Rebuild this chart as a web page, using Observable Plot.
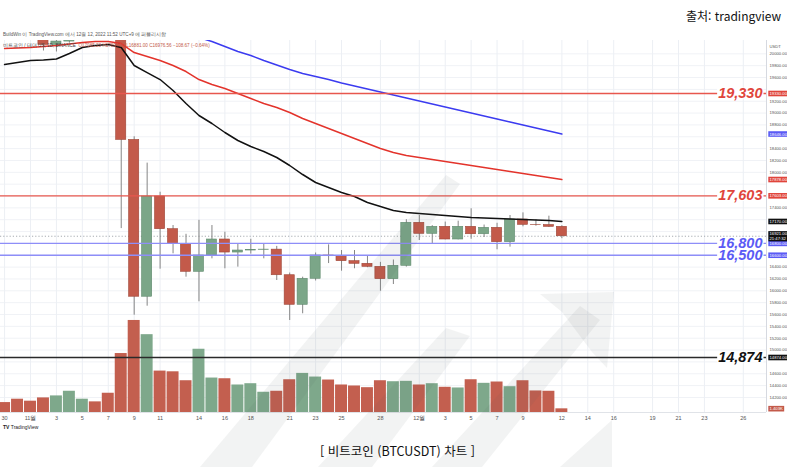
<!DOCTYPE html>
<html lang="ko">
<head>
<meta charset="utf-8">
<script src="https://cdn.jsdelivr.net/npm/d3@7"></script>
<script src="https://cdn.jsdelivr.net/npm/@observablehq/plot@0.6"></script>
<style>
html,body{margin:0;padding:0;background:#fff;}
#wrap{position:relative;width:787px;height:467px;overflow:hidden;background:#fff;font-family:"Liberation Sans",Arial,sans-serif;}
.layer{position:absolute;left:0;top:0;width:787px;height:467px;}
.layer svg{display:block;}
.txt{position:absolute;white-space:nowrap;line-height:1;}
</style>
</head>
<body>
<div id="wrap">
  <div class="layer" id="gridLayer"></div>
  <div class="layer" id="volLayer"></div>
  <div class="layer" id="priceLayer"></div>
  <svg class="layer" id="wm" width="787" height="467" style="pointer-events:none">
    <g fill="#4f5f5f" fill-opacity="0.075">
      <path d="M200,467 L252,467 L460,184 L446,175 Z"/>
      <path d="M318,467 L372,467 L470,336 L446,328 Z"/>
      <path d="M432,467 L482,467 L600,320 L580,306 Z"/>
      <path d="M540,294 L614,292 L607,368 L592,352 L562,312 Z"/>
      <path d="M560,467 L612,467 L612,420 Z"/>
    </g>
  </svg>
  <div class="txt" style="left:3px;top:33px;font-size:4.6px;color:#555;">BuildWin 이 TradingView.com 에서 12월 12, 2022 11:52 UTC+9 에 퍼블리시함</div>
  <div class="txt" style="left:3px;top:43.5px;font-size:4.6px;color:#444;">비트코인 / 테더 US, 1D, BINANCE&nbsp; <span style="color:#c35a4a">O17085.23 H17094.00 L16881.00 C16976.56 −108.67 (−0.64%)</span></div>
  <div class="txt" style="left:3px;top:425px;font-size:5px;color:#222;font-weight:bold;">TV <span style="font-weight:normal">TradingView</span></div>
  <div class="txt" style="left:686px;top:10px;font-size:12px;color:#111;font-family:'Noto Sans CJK KR','Noto Sans',sans-serif;">출처: tradingview</div>
  <div class="txt" style="left:0;width:795px;text-align:center;top:445px;font-size:12.5px;color:#111;font-family:'Noto Sans CJK KR','Noto Sans',sans-serif;">[ 비트코인 (BTCUSDT) 차트 ]</div>
</div>
<script>
// ---------------- data ----------------
const dates = ["2022-10-30","2022-10-31",
  "2022-11-01","2022-11-02","2022-11-03","2022-11-04","2022-11-05","2022-11-06","2022-11-07","2022-11-08","2022-11-09","2022-11-10",
  "2022-11-11","2022-11-12","2022-11-13","2022-11-14","2022-11-15","2022-11-16","2022-11-17","2022-11-18","2022-11-19","2022-11-20",
  "2022-11-21","2022-11-22","2022-11-23","2022-11-24","2022-11-25","2022-11-26","2022-11-27","2022-11-28","2022-11-29","2022-11-30",
  "2022-12-01","2022-12-02","2022-12-03","2022-12-04","2022-12-05","2022-12-06","2022-12-07","2022-12-08","2022-12-09","2022-12-10",
  "2022-12-11","2022-12-12"];
const open  = [20817,20627,20491,20483,20151,20207,21148,21299,20905,20591,18547,15900,17592,17040,16793,16321,16596,16866,16646,16680,16690,16695,16263,15764,16203,16596,16584,16500,16456,16405,16196,16422,17148,16962,17080,16866,17080,16955,17063,16821,17203,17114,17110,17080];
const high  = [20931,20845,20700,20800,20393,21302,21480,21365,21069,20700,18600,18155,17664,17102,16954,17190,17102,16989,16782,16870,16782,16750,16300,16230,16638,16776,16680,16680,16594,16480,16520,17200,17271,17100,17160,17175,17385,17110,17140,17271,17316,17200,17260,17100];
const low   = [20515,20237,20345,20048,20031,20180,21080,20880,20386,17050,15588,15740,16365,16625,16230,15815,16540,16372,16400,16620,16540,16174,15499,15612,16166,16460,16331,16372,16390,15993,16106,16400,16849,16790,16860,16860,16870,16900,16692,16737,17080,17090,17070,16880];
const close = [20627,20491,20483,20151,20207,21148,21299,20905,20591,18547,15900,17592,17040,16793,16321,16596,16866,16646,16680,16690,16695,16263,15764,16203,16596,16584,16500,16456,16405,16196,16422,17148,16962,17080,16866,17080,16955,17063,16821,17203,17114,17110,17080,16921];
const volumeK = [3.80,5.09,4.33,5.59,6.35,8.13,5.09,4.07,7.37,22.57,35.23,29.79,15.85,15.58,12.16,24.21,13.19,12.92,10.53,11.02,7.75,8.13,12.54,14.97,13.57,12.43,10.53,10.15,9.50,12.16,11.78,11.93,10.53,11.02,9.65,9.39,12.54,11.17,11.67,9.88,12.16,8.25,8.13,1.403];
const maBlack = [19819,19853,19887,19895,19912,20005,20106,20140,20157,20106,19803,19684,19566,19381,19161,18959,18824,18672,18537,18435,18351,18250,18115,17963,17828,17743,17659,17592,17490,17423,17355,17322,17305,17288,17271,17254,17237,17229,17220,17212,17203,17195,17187,17170];
const maRed   = [20090,20098,20106,20123,20140,20165,20191,20208,20208,20174,20022,19954,19887,19803,19701,19566,19482,19414,19330,19246,19161,19094,19010,18908,18824,18740,18655,18571,18486,18402,18334,18284,18250,18216,18182,18149,18115,18081,18047,18014,17980,17946,17912,17878];
const maBlue  = [null,null,null,null,null,null,null,null,null,null,null,null,null,null,
  20343,20275,20208,20123,20039,19971,19887,19811,19735,19668,19617,19566,19507,19457,19406,19355,19305,19254,19203,19153,19102,19052,19001,18951,18900,18849,18799,18748,18697,18646];

const levelPrices = [19330, 17603, 16800, 16600, 14874];
const levelLabels = ["19,330", "17,603", "16,800", "16,500", "14,874"];
const levelKinds  = ["red", "red", "blue", "blue", "black"];

const xTickDates  = ["2022-10-30","2022-11-01","2022-11-03","2022-11-05","2022-11-07","2022-11-09","2022-11-11","2022-11-14","2022-11-16","2022-11-18","2022-11-21","2022-11-23","2022-11-25","2022-11-28","2022-12-01","2022-12-03","2022-12-05","2022-12-07","2022-12-09","2022-12-12","2022-12-14","2022-12-16","2022-12-19","2022-12-21","2022-12-23","2022-12-26"];
const xTickLabels = ["30","11월","3","5","7","9","11","14","16","18","21","23","25","28","12월","3","5","7","9","12","14","16","19","21","23","26"];
const priceTicks  = [14200,14400,14600,14800,15000,15200,15400,15600,15800,16000,16200,16400,16600,16800,17000,17200,17400,17600,17800,18000,18200,18400,18600,18800,19000,19200,19400,19600,19800,20000];

// ---------------- build ----------------
const DAY = 864e5;
const toDate = s => new Date(s + "T00:00:00Z");
const rows = dates.map((d, i) => ({
  date: toDate(d), open: open[i], high: high[i], low: low[i], close: close[i],
  vol: volumeK[i], maBlack: maBlack[i], maRed: maRed[i], maBlue: maBlue[i]
}));
const xTicks = xTickDates.map(toDate);
const nov1 = +toDate("2022-11-01");
const xDomain = [new Date(nov1 - 2.315 * DAY), new Date(nov1 + 56.79 * DAY)];
const yDomain = [13946, 20225];

const C = {
  up: "#7ba688", down: "#c35a4a", upEdge: "#5f8a6d", downEdge: "#9e4638",
  red: "#e0453b", blue: "#5b5bf5", lineRed: "#e8574e", lineBlue: "#8e8ef8", lineBlack: "#2a2a2a",
  maBlack: "#111111", maRed: "#e3332b", maBlue: "#3b3bf0"
};
const isUp = d => d.close >= d.open;
const tag = name => () => name;   // per-element aria-label used to find texts afterwards

const base = {
  width: 787, height: 467,
  marginLeft: 0, marginRight: 21, marginTop: 40, marginBottom: 55,
  style: {background: "transparent", fontFamily: "Liberation Sans, Arial, sans-serif", overflow: "visible"},
  x: {type: "utc", domain: xDomain, axis: null},
  color: {type: "identity"}
};

const levels = levelPrices.map((p, i) => ({price: p, label: levelLabels[i], kind: levelKinds[i]}));
const last = rows[rows.length - 1];
const badges = [
  {price: levelPrices[0], text: levelPrices[0].toFixed(2), color: C.red},
  {price: last.maBlue, text: last.maBlue.toFixed(2), color: C.blue},
  {price: last.maRed, text: last.maRed.toFixed(2), color: C.red},
  {price: levelPrices[1], text: levelPrices[1].toFixed(2), color: C.red},
  {price: last.maBlack, text: last.maBlack.toFixed(2), color: "#111"},
  {price: last.close, text: last.close.toFixed(2) + "\n21:47:32", color: "#111"},
  {price: levelPrices[2], text: levelPrices[2].toFixed(2), color: C.blue},
  {price: levelPrices[3], text: levelPrices[3].toFixed(2), color: C.blue},
  {price: levelPrices[4], text: levelPrices[4].toFixed(2), color: "#111"}
];
// axis tick labels that would sit under a badge are hidden, as the price axis does
const shownTicks = priceTicks.filter(t => badges.every(b => Math.abs(b.price - t) > 110));

// Layer A: grid + axes
const gridPlot = Plot.plot({
  ...base,
  y: {domain: yDomain, axis: null},
  marks: [
    Plot.ruleY(priceTicks, {y: d => d, stroke: "#f0f2f6", strokeWidth: 1}),
    Plot.ruleX(xTicks, {x: d => d, stroke: "#eceff4", strokeWidth: 1}),
    Plot.ruleX([xDomain[1]], {stroke: "#d6d9e0", strokeWidth: 1}),
    Plot.ruleY([yDomain[0]], {stroke: "#e0e3e8", strokeWidth: 1}),
    Plot.text(xTicks, {x: d => d, text: xTickLabels, frameAnchor: "bottom", dy: 7, fontSize: 5.5, fill: "#555"}),
    Plot.text(shownTicks, {y: d => d, text: d => d.toFixed(2), frameAnchor: "right", dx: 3, textAnchor: "start", fontSize: 4.2, fill: "#555"}),
    Plot.text(["USDT"], {text: d => d, frameAnchor: "top-right", dx: 3, dy: 5, textAnchor: "start", fontSize: 4.2, fill: "#555"})
  ]
});
document.getElementById("gridLayer").append(gridPlot);

// Layer B: volume
const volPlot = Plot.plot({
  ...base,
  y: {domain: [0, 40], range: [412, 307.5], axis: null},
  marks: [
    Plot.rect(rows, {
      x1: d => new Date(+d.date - 0.5 * DAY), x2: d => new Date(+d.date + 0.5 * DAY),
      y1: d => 0, y2: "vol",
      fill: d => isUp(d) ? "#7ea88b" : "#c35f4f",
      insetLeft: 0.5, insetRight: 0.5, clip: true
    }),
    Plot.text([last], {y: "vol", text: d => d.vol.toFixed(3) + "K", frameAnchor: "right", dx: 3, textAnchor: "start",
      fontSize: 4.2, fill: d => "#c35a4a", ariaLabel: tag("badge")})
  ]
});
document.getElementById("volLayer").append(volPlot);

// Layer C: price
const lvlStroke = k => k === "red" ? C.lineRed : k === "blue" ? C.lineBlue : C.lineBlack;
const lvlText = k => k === "red" ? C.red : k === "blue" ? C.blue : "#111";

const pricePlot = Plot.plot({
  ...base,
  y: {domain: yDomain, axis: null},
  marks: [
    Plot.ruleY([last.close], {stroke: "#8f959c", strokeDasharray: "1.2,2", strokeWidth: 0.8}),
    Plot.ruleX(rows, {x: "date", y1: "low", y2: "high", stroke: "#858585", strokeWidth: 1, clip: true}),
    Plot.rect(rows, {
      x1: d => new Date(+d.date - 0.39 * DAY), x2: d => new Date(+d.date + 0.39 * DAY),
      y1: "open", y2: "close",
      fill: d => isUp(d) ? C.up : C.down,
      stroke: d => isUp(d) ? C.upEdge : C.downEdge, strokeWidth: 0.6, clip: true
    }),
    Plot.line(rows, {x: "date", y: "maRed", stroke: C.maRed, strokeWidth: 1.5, clip: true}),
    Plot.line(rows, {x: "date", y: "maBlue", stroke: C.maBlue, strokeWidth: 1.5, clip: true}),
    Plot.line(rows, {x: "date", y: "maBlack", stroke: C.maBlack, strokeWidth: 1.5, clip: true}),
    Plot.ruleY(levels, {y: "price", stroke: d => lvlStroke(d.kind), strokeWidth: 1.3}),
    Plot.text(levels, {y: "price", text: "label", frameAnchor: "right", dx: -4, textAnchor: "end",
      fill: d => lvlText(d.kind), fontSize: 14.5, fontWeight: "bold", fontStyle: "italic",
      fontFamily: "Liberation Sans, Arial, sans-serif", ariaLabel: tag("levellabel")}),
    Plot.text(badges, {y: "price", text: "text", frameAnchor: "right", dx: 3, textAnchor: "start",
      fontSize: 4.2, lineHeight: 1.1, fill: "color", ariaLabel: tag("badge")})
  ]
});
document.getElementById("priceLayer").append(pricePlot);

// boxes behind texts (badges on the price axis, white backing under the level labels)
function addBoxes(svg, label, padX, padY, useTextFill, newTextFill, fixedFill) {
  const texts = Array.from(svg.querySelectorAll(`text[aria-label="${label}"], g[aria-label="${label}"] text`));
  const made = [];
  texts.forEach(t => {
    const bb = t.getBBox();
    const r = document.createElementNS("http://www.w3.org/2000/svg", "rect");
    r.setAttribute("x", bb.x - padX);
    r.setAttribute("y", bb.y - padY);
    r.setAttribute("width", bb.width + 2 * padX);
    r.setAttribute("height", bb.height + 2 * padY);
    const tr = t.getAttribute("transform");
    if (tr) r.setAttribute("transform", tr);
    const f = t.getAttribute("fill") || t.parentNode.getAttribute("fill") || "#000";
    r.setAttribute("fill", useTextFill ? f : fixedFill);
    made.push([t, r]);
  });
  made.forEach(([t, r]) => {
    const g = t.parentNode;
    g.insertBefore(r, g.firstChild);
    if (newTextFill) t.setAttribute("fill", newTextFill);
  });
}
addBoxes(pricePlot, "levellabel", 1, -2.5, false, null, "#fff");
addBoxes(pricePlot, "badge", 1.2, 0.3, true, "#fff");
addBoxes(volPlot, "badge", 1.2, 0.3, true, "#fff");
</script>
</body>
</html>
